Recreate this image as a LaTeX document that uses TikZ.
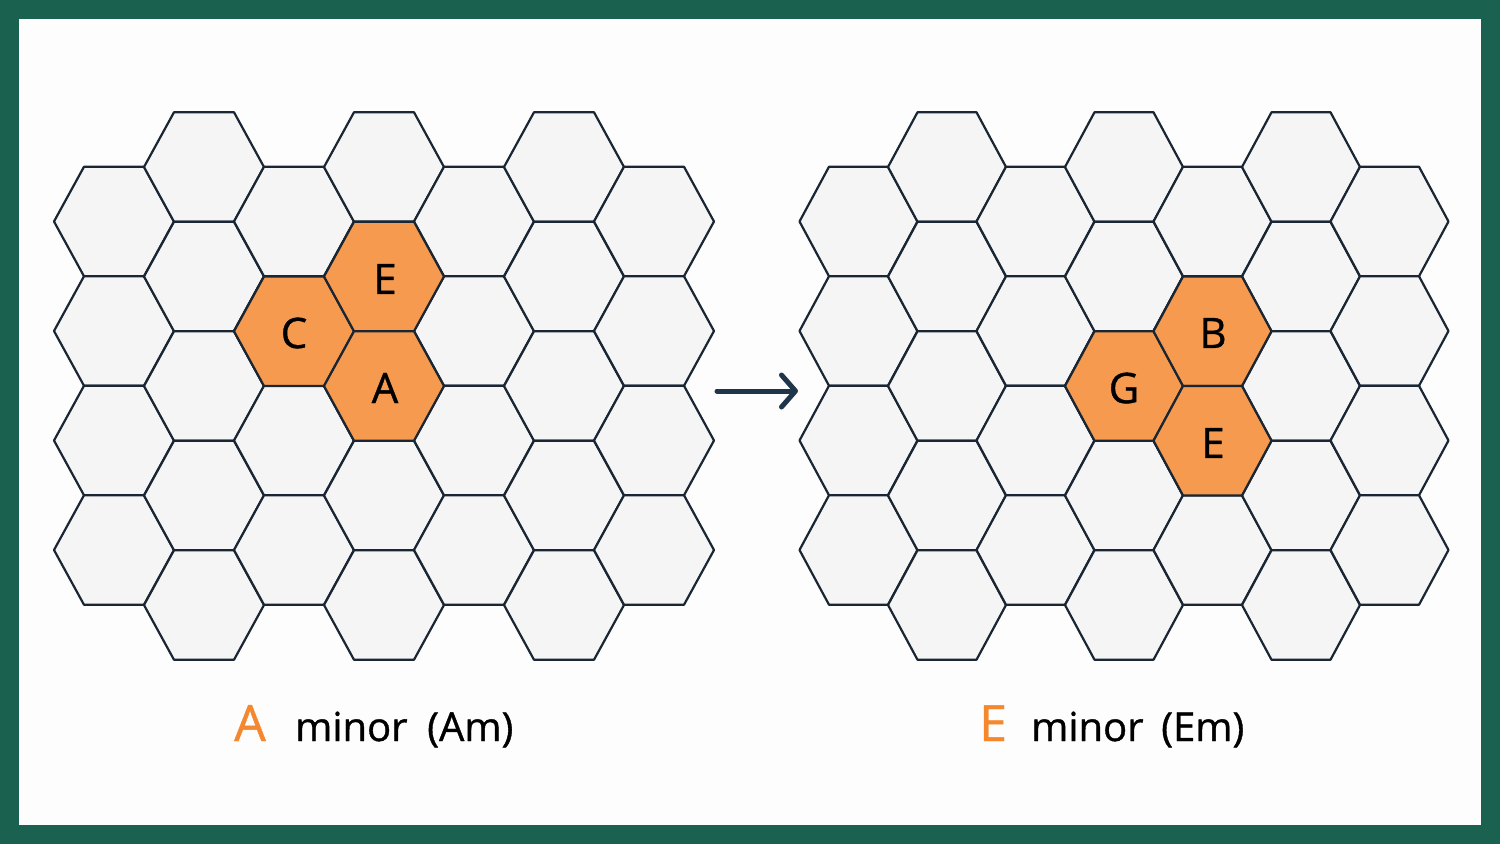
\documentclass[tikz,border=0pt]{standalone}
\usepackage{fontspec}
\setmainfont{Open Sans}[FakeBold=0.9]
\newfontfamily\heavysans{Open Sans}[FakeBold=0.9]
\usepackage{tikz}
\usetikzlibrary{arrows.meta,positioning}

\definecolor{framegreen}{HTML}{1B6150}
\definecolor{paper}{HTML}{FDFDFD}
\definecolor{cellgray}{HTML}{F5F5F5}
\definecolor{chordorange}{HTML}{F59A4E}
\definecolor{rootorange}{HTML}{F5882E}
\definecolor{hexline}{HTML}{1A2633}
\definecolor{arrowblue}{HTML}{1F3549}

% one flat-topped cell: style, centre x, centre y, corner radius
\newcommand{\hexcellat}[4]{%
  \draw[#1] (#2-#4,#3) -- (#2-#4/2,#3-54.75) -- (#2+#4/2,#3-54.75)
    -- (#2+#4,#3) -- (#2+#4/2,#3+54.75) -- (#2-#4/2,#3+54.75) -- cycle;}

\begin{document}
\begin{tikzpicture}[x=1pt,y=-1pt, hexcell/.style={draw=hexline,line width=2.2pt,fill=cellgray,line join=round}, hot/.style={hexcell,fill=chordorange}, note/.style={font=\heavysans\fontsize{42}{50}\selectfont,inner sep=0pt}, caption/.style={font=\heavysans\fontsize{40}{48}\selectfont,anchor=base west,inner sep=0pt}, root/.style={caption,font=\heavysans\fontsize{50}{58}\selectfont,text=rootorange}, arr/.style={-{Straight Barb[length=14pt,width=32pt,line cap=round,round]},line width=5pt,draw=arrowblue,line cap=round}]
\useasboundingbox (0,0) rectangle (1500,844);
\fill[framegreen] (0,0) rectangle (1500,844);
\fill[paper] (19,19) rectangle (1481,825);

% two honeycombs: first column x / column step / radius
\foreach \gx/\gs/\gr in {114/90/60, 858.5/88.5/59} {
  \foreach \col in {0,...,6} {
    \pgfmathsetmacro{\cx}{\gx+\col*\gs}
    \pgfmathtruncatemacro{\nrow}{isodd(\col) ? 4 : 3}
    \pgfmathsetmacro{\ytop}{isodd(\col) ? 167 : 221.5}
    \foreach \row in {0,...,\nrow} {
      \pgfmathsetmacro{\cy}{\ytop+\row*109.5}
      \hexcellat{hexcell}{\cx}{\cy}{\gr}
    }
  }
}

% A minor
\hexcellat{hot}{294}{331.25}{60}
\hexcellat{hot}{384}{276.5}{60}
\hexcellat{hot}{384}{386}{60}
\node[note] (amC) at (294,333) {C};
\node[note] (amE) at (385,279) {E};
\node[note] (amA) at (385,388) {A};

% E minor
\hexcellat{hot}{1124}{386}{59}
\hexcellat{hot}{1212.5}{331.25}{59}
\hexcellat{hot}{1212.5}{440.75}{59}
\node[note] (emG) at (1124,388) {G};
\node[note] (emB) at (1213,333) {B};
\node[note] (emE) at (1213,443) {E};

\coordinate (arrtail) at (717,391);
\coordinate (arrtip) at (798,391);
\draw[arr] (arrtail) -- (arrtip);

\node[root] (amroot) at (234,741) {A};
\node[caption] (amname) at (295,741) {minor};
\node[caption] (amsym) at (427,741) {(Am)};
\node[root] (emroot) at (979,741) {E};
\node[caption] (emname) at (1031,741) {minor};
\node[caption] (emsym) at (1161,741) {(Em)};
\end{tikzpicture}
\end{document}
